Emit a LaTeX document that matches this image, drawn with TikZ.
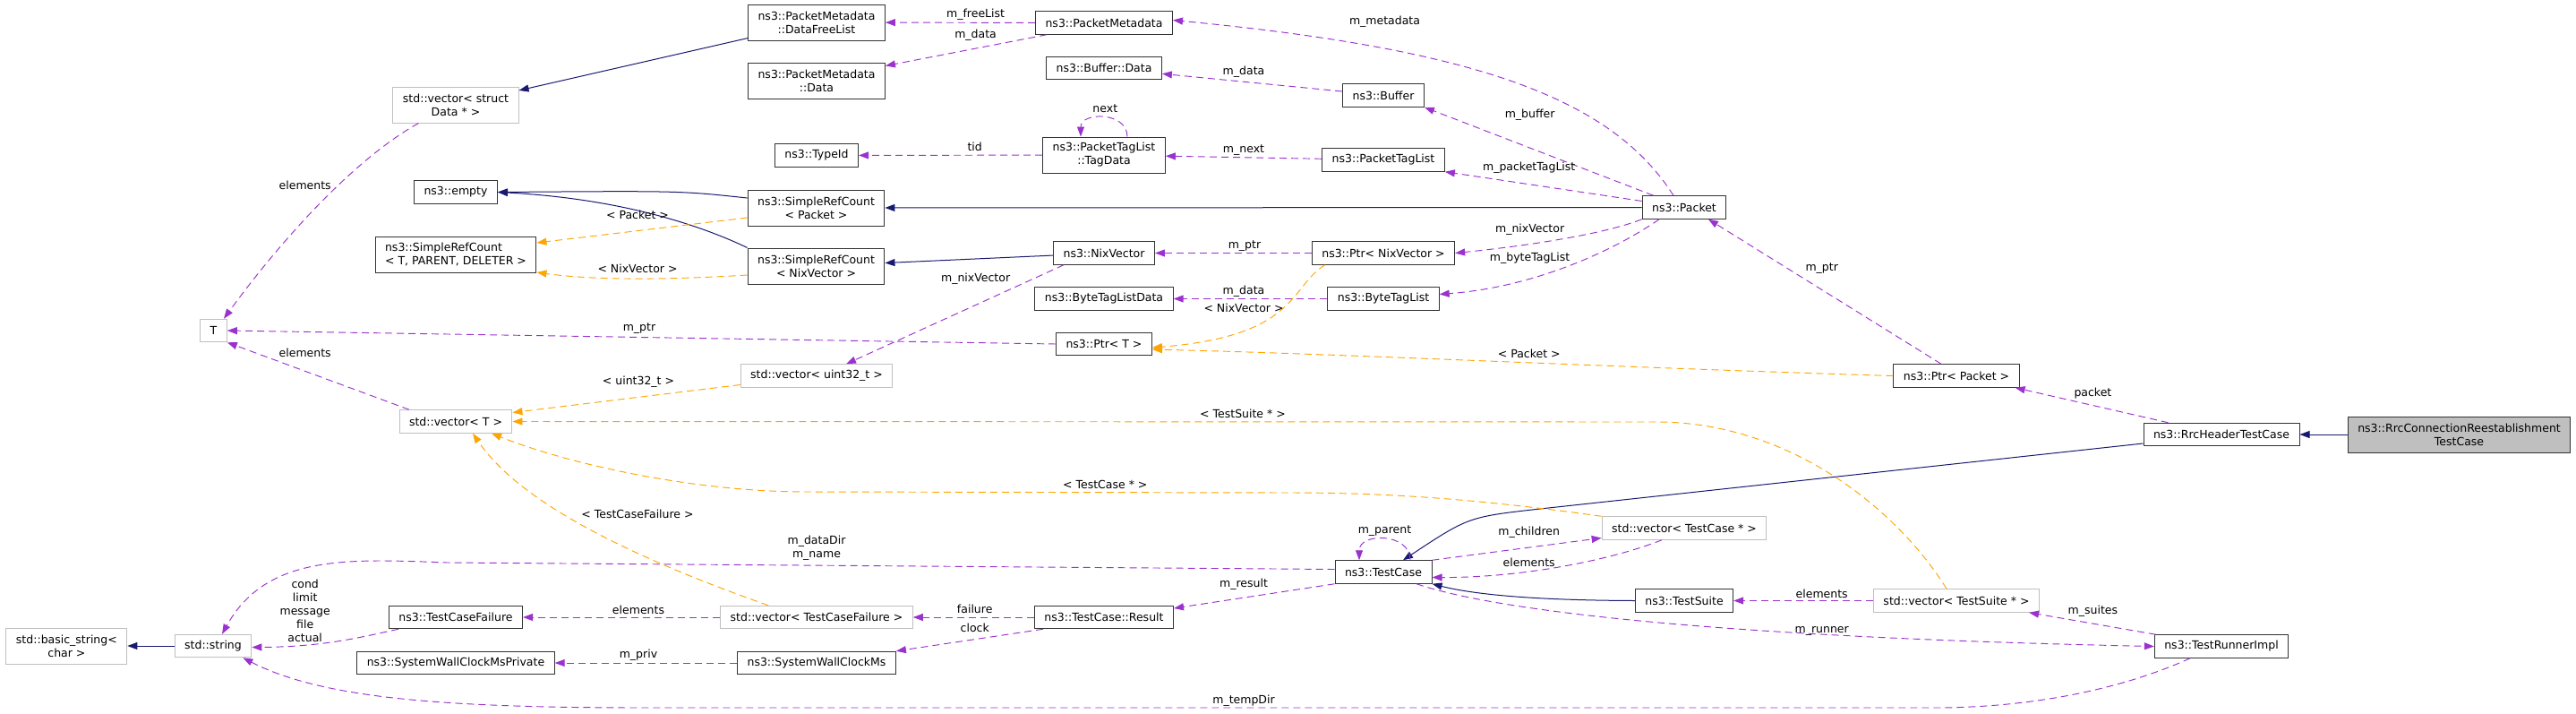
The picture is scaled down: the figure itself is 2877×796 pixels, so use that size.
\documentclass[tikz,border=0pt]{standalone}
\usepackage{fontspec}
\setmainfont{DejaVu Sans}
\usetikzlibrary{arrows.meta}
\definecolor{inhcol}{HTML}{191970}
\definecolor{usecol}{HTML}{9A32CD}
\definecolor{tplcol}{HTML}{FFA500}
\definecolor{boxgray}{HTML}{BFBFBF}
\tikzset{
  every node/.style={font=\fontsize{12.5}{15}\selectfont},
  cls/.style={draw=black!80, line width=1pt, minimum height=25.5pt, inner xsep=11pt, inner ysep=2pt, align=center},
  ext/.style={cls, draw=boxgray},
  twoline/.style={minimum height=40pt},
  focus/.style={cls, fill=boxgray},
  lbl/.style={inner sep=0pt, align=center},
  inhedge/.style={draw=inhcol, line width=1pt, -{Triangle[length=11pt,width=8pt]}},
  useedge/.style={draw=usecol, line width=0.95pt, dash pattern=on 8pt off 5pt, -{Triangle[length=11pt,width=8pt]}},
  tmpledge/.style={useedge, draw=tplcol}
}
\begin{document}
\begin{tikzpicture}[x=1pt,y=1pt]
		\useasboundingbox (0,0) rectangle (2877,-796);
		\node[ext, twoline] (bstr) at (74.4,-721) {std::basic\_string<\\char >};
		\node[ext] (str) at (238,-721) {std::string};
		\node[ext] (T) at (238.5,-369) {T};
		\node[ext, twoline] (vdata) at (509,-117) {std::vector< struct\\Data * >};
		\node[cls] (empty) at (509,-214.5) {ns3::empty};
		\node[cls, twoline, align=left] (srct) at (509,-284) {ns3::SimpleRefCount\\< T, PARENT, DELETER >};
		\node[ext] (vecT) at (509,-470.5) {std::vector< T >};
		\node[cls] (tcf) at (509,-689) {ns3::TestCaseFailure};
		\node[cls] (swcmp) at (509,-740) {ns3::SystemWallClockMsPrivate};
		\node[cls, twoline] (dfl) at (912,-25) {ns3::PacketMetadata\\::DataFreeList};
		\node[cls, twoline] (pmd) at (912,-90.5) {ns3::PacketMetadata\\::Data};
		\node[cls] (tid) at (912,-173.5) {ns3::TypeId};
		\node[cls, twoline] (srcp) at (911.5,-232) {ns3::SimpleRefCount\\< Packet >};
		\node[cls, twoline] (srcn) at (911.5,-297) {ns3::SimpleRefCount\\< NixVector >};
		\node[ext] (vu) at (912,-419.5) {std::vector< uint32\_t >};
		\node[ext] (vtcf) at (912,-689) {std::vector< TestCaseFailure >};
		\node[cls] (swcm) at (912,-740) {ns3::SystemWallClockMs};
		\node[cls] (pm) at (1233,-25.5) {ns3::PacketMetadata};
		\node[cls] (bd) at (1233,-76) {ns3::Buffer::Data};
		\node[cls, twoline] (td) at (1233,-173) {ns3::PacketTagList\\::TagData};
		\node[cls] (nix) at (1233,-282.5) {ns3::NixVector};
		\node[cls] (btld) at (1233,-333.5) {ns3::ByteTagListData};
		\node[cls] (pt) at (1233,-384) {ns3::Ptr< T >};
		\node[cls] (res) at (1233,-689) {ns3::TestCase::Result};
		\node[cls] (buf) at (1545,-106.5) {ns3::Buffer};
		\node[cls] (ptl) at (1545,-178.5) {ns3::PacketTagList};
		\node[cls] (pnix) at (1545,-282.5) {ns3::Ptr< NixVector >};
		\node[cls] (btl) at (1545,-333.5) {ns3::ByteTagList};
		\node[cls] (tc) at (1545,-638.5) {ns3::TestCase};
		\node[cls] (pk) at (1881,-231.5) {ns3::Packet};
		\node[ext] (vtc) at (1881,-589.5) {std::vector< TestCase * >};
		\node[cls] (ts) at (1881,-670.5) {ns3::TestSuite};
		\node[cls] (pp) at (2185,-419.5) {ns3::Ptr< Packet >};
		\node[ext] (vts) at (2185,-670.5) {std::vector< TestSuite * >};
		\node[cls] (rrch) at (2481,-485) {ns3::RrcHeaderTestCase};
		\node[cls] (tri) at (2481,-721.5) {ns3::TestRunnerImpl};
		\node[focus, twoline] (rcr) at (2746.5,-485) {ns3::RrcConnectionReestablishment\\TestCase};
		\draw[inhedge] (dfl) -- (vdata);
		\draw[inhedge] ([yshift=11pt]srcp.west) .. controls (760,-213) .. (empty.east);
		\draw[inhedge] (srcn.north west) .. controls (790,-255) and (700,-222) .. (empty.east);
		\draw[inhedge] (pk) -- (srcp);
		\draw[inhedge] (nix) -- (srcn);
		\draw[inhedge] ([yshift=-10pt]rrch.west) -- (1720,-568) .. controls (1640,-577) .. ([xshift=22pt]tc.north);
		\draw[inhedge] (ts.west) .. controls (1700,-670) and (1640,-662) .. (tc.south east);
		\draw[inhedge] (rcr) -- (rrch);
		\draw[inhedge] (str) -- (bstr);
		\draw[useedge] (pm) -- (dfl);
		\draw[useedge] ([xshift=13pt]pm.south west) -- ([yshift=17pt]pmd.east);
		\draw[useedge] ([xshift=-12pt]pk.north) .. controls (1800,-110) and (1650,-55) .. ([yshift=3pt]pm.east);
		\draw[useedge] (buf) -- (bd);
		\draw[useedge] (pk) -- (buf.south east);
		\draw[useedge] ([xshift=26pt]td.north) .. controls +(0,28) and +(0,28) .. ([xshift=-26pt]td.north);
		\draw[useedge] (td) -- (tid);
		\draw[useedge] (ptl) -- (td);
		\draw[useedge] (pk) -- (ptl.south east);
		\draw[useedge] (pnix) -- (nix);
		\draw[useedge] (pk.south west) .. controls (1790,-262) and (1700,-275) .. (pnix.east);
		\draw[useedge] (btl) -- (btld);
		\draw[useedge] ([xshift=-28pt]pk.south) .. controls (1810,-275) and (1720,-320) .. ([yshift=5pt]btl.east);
		\draw[useedge] ([xshift=-45pt]nix.south) -- ([xshift=33pt]vu.north);
		\draw[useedge] (pt.west) -- (T.east);
		\draw[useedge] ([xshift=-17pt]pp.north) -- ([xshift=27pt]pk.south);
		\draw[useedge] ([xshift=28pt]rrch.north west) -- ([xshift=-5pt]pp.south east);
		\draw[useedge] ([xshift=-41.5pt]vdata.south) .. controls (400,-175) and (320,-260) .. ([xshift=11.5pt]T.north);
		\draw[useedge] ([xshift=-52pt]vecT.north) -- (T.south east);
		\draw[useedge] ([yshift=3pt]tc.west) -- (500,-628) .. controls (390,-624) and (298,-618) .. ([xshift=10pt]str.north);
		\draw[useedge] ([xshift=-64pt]tcf.south) .. controls (400,-712) and (360,-722) .. ([yshift=-1.5pt]str.east);
		\draw[useedge] (vtcf) -- (tcf);
		\draw[useedge] (res) -- (vtcf);
		\draw[useedge] ([xshift=-68pt]res.south) -- (swcm.north east);
		\draw[useedge] (swcm) -- (swcmp);
		\draw[useedge] (tc.south west) -- ([yshift=10pt]res.east);
		\draw[useedge] ([xshift=30pt]tc.north) .. controls +(0,31) and +(0,31) .. ([xshift=-27pt]tc.north);
		\draw[useedge] (tc.north east) -- ([yshift=-11pt]vtc.west);
		\draw[useedge] ([xshift=-25pt]vtc.south) .. controls (1800,-625) and (1700,-645) .. ([yshift=-6pt]tc.east);
		\draw[useedge] (vts) -- (ts);
		\draw[useedge] ([xshift=37pt]tc.south) .. controls (1680,-685) and (1950,-712) .. (tri.west);
		\draw[useedge] ([xshift=2pt]tri.north west) -- ([xshift=-12pt]vts.south east);
		\draw[useedge] ([xshift=-35pt]tri.south) .. controls (2380,-765) and (2280,-790) .. (2160,-790) -- (720,-790) .. controls (500,-790) and (360,-780) .. ([xshift=-10pt]str.south east);
		\draw[tmpledge] ([yshift=-11pt]srcp.west) -- ([yshift=13pt]srct.east);
		\draw[tmpledge] ([yshift=-10pt]srcn.west) .. controls (720,-314) and (650,-311) .. ([yshift=-20pt]srct.east);
		\draw[tmpledge] ([xshift=15pt]pnix.south west) .. controls (1440,-320) and (1450,-375) .. ([yshift=-4pt]pt.east);
		\draw[tmpledge] (pp.west) .. controls (1800,-410) and (1500,-395) .. ([yshift=-6pt]pt.east);
		\draw[tmpledge] ([yshift=-10pt]vu.west) -- ([yshift=10pt]vecT.east);
		\draw[tmpledge] ([xshift=-11pt]vts.north) .. controls (2120,-570) and (2000,-471) .. (1850,-471) -- (vecT.east);
		\draw[tmpledge] (vtc.north west) .. controls (1650,-557) and (1550,-550) .. (1440,-550) -- (900,-549) .. controls (780,-549) and (640,-520) .. ([xshift=40pt]vecT.south);
		\draw[tmpledge] ([xshift=-54pt]vtcf.north) .. controls (700,-620) and (580,-560) .. ([xshift=19pt]vecT.south);
		\node[lbl] (lfree) at (1089.6,-16.7) {m\_freeList};
		\node[lbl] (lpmdata) at (1089.6,-39) {m\_data};
		\node[lbl] (lmeta) at (1546.5,-24) {m\_metadata};
		\node[lbl] (lbdata) at (1389,-80) {m\_data};
		\node[lbl] (lbuf) at (1708.6,-128.7) {m\_buffer};
		\node[lbl] (lnext) at (1234.3,-120.7) {next};
		\node[lbl] (ltid) at (1088.7,-164.3) {tid};
		\node[lbl] (lmnext) at (1389,-167.7) {m\_next};
		\node[lbl] (lptl) at (1707.7,-187.7) {m\_packetTagList};
		\node[lbl] (lnptr) at (1390,-275) {m\_ptr};
		\node[lbl] (lpnix) at (1708.6,-256.7) {m\_nixVector};
		\node[lbl] (lbtdata) at (1389,-325) {m\_data};
		\node[lbl] (ltnix) at (1389,-344.3) {< NixVector >};
		\node[lbl] (lbtl) at (1708.6,-288.7) {m\_byteTagList};
		\node[lbl] (lnixv) at (1089.6,-311) {m\_nixVector};
		\node[lbl] (ltptr) at (714,-367) {m\_ptr};
		\node[lbl] (lpptr) at (2034.7,-300) {m\_ptr};
		\node[lbl] (lpacket) at (2337.4,-439) {packet};
		\node[lbl] (lel1) at (340.7,-206.7) {elements};
		\node[lbl] (lel2) at (340.7,-394.3) {elements};
		\node[lbl] (ltpk) at (712,-240) {< Packet >};
		\node[lbl] (ltnv) at (712,-300.3) {< NixVector >};
		\node[lbl] (ltu32) at (713,-426.7) {< uint32\_t >};
		\node[lbl] (ltts) at (1388,-462.3) {< TestSuite * >};
		\node[lbl] (lttc) at (1234.3,-540.7) {< TestCase * >};
		\node[lbl] (lttcf) at (712,-574.3) {< TestCaseFailure >};
		\node[lbl] (ltpp) at (1707.7,-395) {< Packet >};
		\node[lbl] (ldir) at (912,-612) {m\_dataDir\\m\_name};
		\node[lbl] (lcond) at (340.7,-682) {cond\\limit\\message\\file\\actual};
		\node[lbl] (lel3) at (713,-681) {elements};
		\node[lbl] (lfail) at (1088.7,-680) {failure};
		\node[lbl] (lclock) at (1088.7,-700.7) {clock};
		\node[lbl] (lpriv) at (713,-731.7) {m\_priv};
		\node[lbl] (lres) at (1389,-652.7) {m\_result};
		\node[lbl] (lpar) at (1546.5,-592.7) {m\_parent};
		\node[lbl] (lchild) at (1707.7,-594.3) {m\_children};
		\node[lbl] (lel4) at (1707.7,-627.7) {elements};
		\node[lbl] (lel5) at (2034.7,-662.7) {elements};
		\node[lbl] (lrun) at (2034.7,-704) {m\_runner};
		\node[lbl] (lsuit) at (2337.4,-682.7) {m\_suites};
		\node[lbl] (ltmp) at (1389,-782.7) {m\_tempDir};
	\end{tikzpicture}
\end{document}
